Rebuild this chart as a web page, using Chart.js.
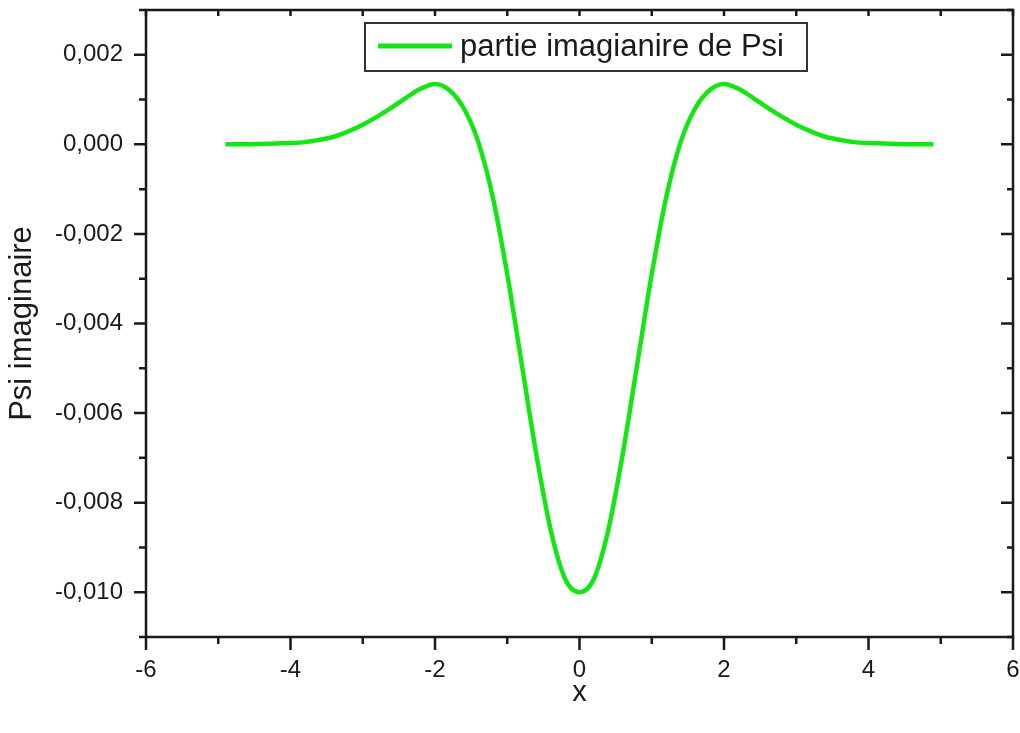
<!DOCTYPE html>
<html>
<head>
<meta charset="utf-8">
<script src="https://cdn.jsdelivr.net/npm/chart.js@4"></script>
<style>
  html, body { margin:0; padding:0; background:#fff; }
  #wrap { width:1020px; height:733px; }
</style>
</head>
<body>
<div id="wrap"><canvas id="psiChart" width="1020" height="733"></canvas></div>
<script>

const FONT = "'Liberation Sans', Arial, sans-serif";

/* donnees */

const xValues = [
  -4.9, -4.6, -4.4, -4.2, -4.0, -3.8, -3.6, -3.4, -3.2, -3.0,
  -2.8, -2.6, -2.4, -2.2, -2.0, -1.8, -1.6, -1.4, -1.2, -1.0,
  -0.8, -0.6, -0.4, -0.2, 0,
  0.2, 0.4, 0.6, 0.8, 1.0, 1.2, 1.4, 1.6, 1.8, 2.0,
  2.2, 2.4, 2.6, 2.8, 3.0, 3.2, 3.4, 3.6, 3.8, 4.0,
  4.2, 4.4, 4.6, 4.9
];

const psiImag = [
  0.00000, 0.00000, 0.00001, 0.00002, 0.00003, 0.00005, 0.00010, 0.00017, 0.00029, 0.00044,
  0.00062, 0.00082, 0.00104, 0.00124, 0.00135, 0.00121, 0.00080, 0.00005, -0.00118, -0.00290,
  -0.00490, -0.00690, -0.00860, -0.00970, -0.01000,
  -0.00970, -0.00860, -0.00690, -0.00490, -0.00290, -0.00118, 0.00005, 0.00080, 0.00121, 0.00135,
  0.00124, 0.00104, 0.00082, 0.00062, 0.00044, 0.00029, 0.00017, 0.00010, 0.00005, 0.00003,
  0.00002, 0.00001, 0.00000, 0.00000
];

const seriesLabel = "partie imagianire de Psi";

const xTicks = [-6, -4, -2, 0, 2, 4, 6];
const xTickLabels = ["-6", "-4", "-2", "0", "2", "4", "6"];
const xMinor = [-5, -3, -1, 1, 3, 5];

const yTicks = [-0.010, -0.008, -0.006, -0.004, -0.002, 0, 0.002];
const yTickLabels = ["-0,010", "-0,008", "-0,006", "-0,004", "-0,002", "0,000", "0,002"];
const yMinor = [-0.011, -0.009, -0.007, -0.005, -0.003, -0.001, 0.001, 0.003];

const lineColor = "#14e614";

/* pas de marge auto autour des labels */
function noPadding(scale){
  scale.paddingTop = 0;
  scale.paddingBottom = 0;
  scale.paddingLeft = 0;
  scale.paddingRight = 0;
}

/* cadre + graduations facon Origin */

const framePlugin = {
  id: "frame",
  afterDraw(chart){
    const ctx = chart.ctx;
    const a = chart.chartArea;
    const xs = chart.scales.x;
    const ys = chart.scales.y;

    ctx.save();
    ctx.strokeStyle = "#1a1a1a";
    ctx.lineWidth = 2.5;
    ctx.lineCap = "butt";

    ctx.strokeRect(a.left, a.top, a.right - a.left, a.bottom - a.top);

    ctx.beginPath();

    xTicks.forEach(v => {
      const px = xs.getPixelForValue(v);
      ctx.moveTo(px, a.bottom); ctx.lineTo(px, a.bottom + 13);
      ctx.moveTo(px, a.top); ctx.lineTo(px, a.top + 6);
    });

    xMinor.forEach(v => {
      const px = xs.getPixelForValue(v);
      ctx.moveTo(px, a.bottom); ctx.lineTo(px, a.bottom + 7);
      ctx.moveTo(px, a.top); ctx.lineTo(px, a.top + 6);
    });

    yTicks.forEach(v => {
      const py = ys.getPixelForValue(v);
      ctx.moveTo(a.left, py); ctx.lineTo(a.left - 12, py);
      ctx.moveTo(a.right, py); ctx.lineTo(a.right - 12, py);
    });

    yMinor.forEach(v => {
      const py = ys.getPixelForValue(v);
      ctx.moveTo(a.left, py); ctx.lineTo(a.left - 7, py);
      ctx.moveTo(a.right, py); ctx.lineTo(a.right - 6, py);
    });

    ctx.stroke();

    /* legende */
    const bx = a.left + 219;
    const by = a.top + 13;
    const bw = 442;
    const bh = 48;

    ctx.fillStyle = "#fff";
    ctx.fillRect(bx, by, bw, bh);
    ctx.lineWidth = 2;
    ctx.strokeStyle = "#333";
    ctx.strokeRect(bx, by, bw, bh);

    ctx.beginPath();
    ctx.strokeStyle = lineColor;
    ctx.lineWidth = 5;
    ctx.moveTo(bx + 13, by + 23);
    ctx.lineTo(bx + 87, by + 23);
    ctx.stroke();

    ctx.fillStyle = "#1a1a1a";
    ctx.font = "31px " + FONT;
    ctx.textBaseline = "middle";
    ctx.fillText(chart.data.datasets[0].label, bx + 95, by + 24);

    ctx.restore();
  }
};

const ctx = document.getElementById("psiChart");

new Chart(ctx, {

  type: "line",

  data: {
    datasets: [{
      label: seriesLabel,
      data: xValues.map((x, i) => ({ x: x, y: psiImag[i] })),
      borderColor: lineColor,
      borderWidth: 4.5,
      pointRadius: 0,
      fill: false,
      cubicInterpolationMode: "monotone"
    }]
  },

  options: {
    responsive: false,
    animation: false,
    layout: {
      padding: { left: 0, right: 7, top: 10, bottom: 0 }
    },
    plugins: {
      legend: { display: false },
      tooltip: { enabled: false }
    },
    scales: {
      x: {
        type: "linear",
        min: -6,
        max: 6,
        grid: { display: false, drawTicks: false },
        border: { display: false },
        afterBuildTicks(scale){
          scale.ticks = xTicks.map(v => ({ value: v }));
        },
        afterFit(scale){
          scale.height = 96;
          noPadding(scale);
        },
        ticks: {
          padding: 19,
          color: "#1a1a1a",
          font: { family: FONT, size: 24 },
          maxRotation: 0,
          callback: (v, i) => xTickLabels[i]
        },
        title: {
          display: true,
          text: "x",
          color: "#1a1a1a",
          font: { family: FONT, size: 29 },
          padding: { top: 0, bottom: 23 }
        }
      },
      y: {
        type: "linear",
        min: -0.011,
        max: 0.003,
        grid: { display: false, drawTicks: false },
        border: { display: false },
        afterBuildTicks(scale){
          scale.ticks = yTicks.map(v => ({ value: v }));
        },
        afterFit(scale){
          scale.width = 146;
          noPadding(scale);
        },
        ticks: {
          padding: 23,
          color: "#1a1a1a",
          font: { family: FONT, size: 24 },
          callback: (v, i) => yTickLabels[i]
        },
        title: {
          display: true,
          text: "Psi imaginaire",
          color: "#1a1a1a",
          font: { family: FONT, size: 31 },
          padding: { top: 4, bottom: 0 }
        }
      }
    }
  },

  plugins: [framePlugin]

});

</script>
</body>
</html>
